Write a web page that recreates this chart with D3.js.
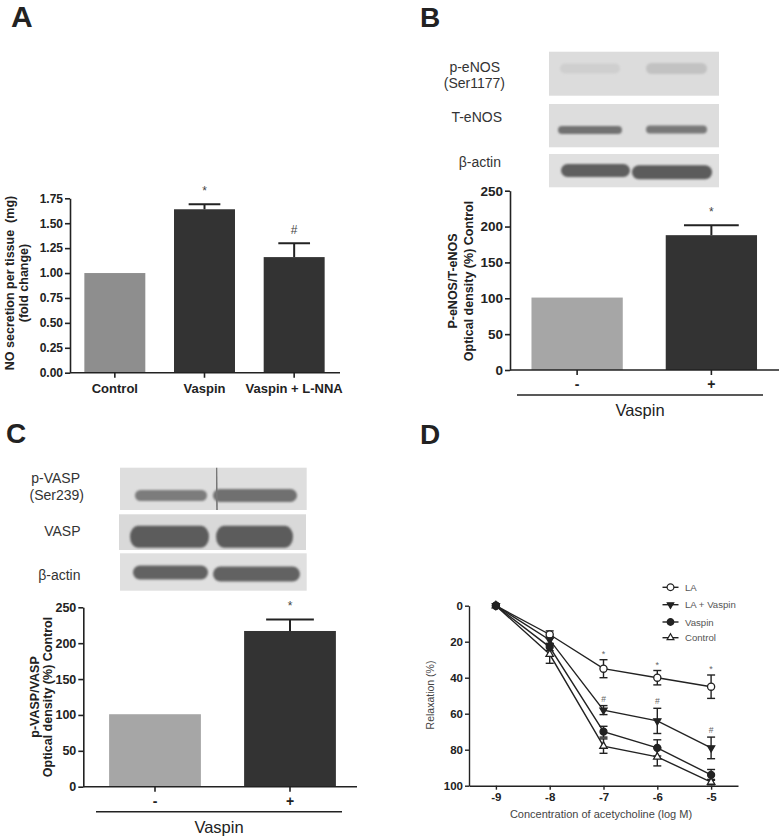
<!DOCTYPE html>
<html><head><meta charset="utf-8">
<script src="https://cdn.jsdelivr.net/npm/d3@7"></script>
<style>
body{margin:0;background:#fff;}
svg{display:block;font-family:"Liberation Sans",Arial,sans-serif;}
text{white-space:pre;}
</style></head><body>
<svg id="c" width="783" height="839"></svg>
<script>
// ---------- DATA ----------
const aCategories = ["Control", "Vaspin", "Vaspin + L-NNA"];
const aValues = [1.00, 1.64, 1.16];
const aErrors = [0, 0.05, 0.14];
const aMarks = ["", "*", "#"];
const aTicks = [0, 0.25, 0.5, 0.75, 1.0, 1.25, 1.5, 1.75];

const bCategories = ["-", "+"];
const bValues = [101, 188];
const bErrors = [0, 14];
const bMarks = ["", "*"];
const bTicks = [0, 50, 100, 150, 200, 250];

const cCategories = ["-", "+"];
const cValues = [101, 217];
const cErrors = [0, 16];
const cMarks = ["", "*"];
const cTicks = [0, 50, 100, 150, 200, 250];

const bBlotLabels = [["p-eNOS", "(Ser1177)"], ["T-eNOS"], ["β-actin"]];
const bBandDensity = [[0.07, 0.15], [0.66, 0.62], [0.78, 0.8]];
const cBlotLabels = [["p-VASP", "(Ser239)"], ["VASP"], ["β-actin"]];
const cBandDensity = [[0.6, 0.68], [0.8, 0.8], [0.76, 0.76]];

const dDoses = [-9, -8, -7, -6, -5];
const dYTicks = [0, 20, 40, 60, 80, 100];
const dNames = ["LA", "LA + Vaspin", "Vaspin", "Control"];
const dLA = [0, 16, 35, 40, 45];
const dLAErr = [0, 2, 5, 4, 6.5];
const dLAVaspin = [0, 19, 58, 64, 79];
const dLAVaspinErr = [0, 2, 2.5, 7, 6];
const dVaspin = [0, 23, 70, 79, 94];
const dVaspinErr = [0, 2, 3, 4.5, 3];
const dControl = [0, 27, 78, 84, 98];
const dControlErr = [0, 5, 4, 5, 1.5];
const dStarMarks = ["", "", "*", "*", "*"];
const dHashMarks = ["", "", "#", "#", "#"];

// ---------- DRAWING ----------
const FONT = '"Liberation Sans", Arial, sans-serif';
const INK = "#222";
const svg = d3.select("#c");
const defs = svg.append("defs");
defs.append("filter").attr("id", "blur").attr("x", "-20%").attr("y", "-50%").attr("width", "140%").attr("height", "200%")
  .append("feGaussianBlur").attr("stdDeviation", 1.3);
defs.append("filter").attr("id", "blur2").append("feGaussianBlur").attr("stdDeviation", 0.6);
defs.append("clipPath").attr("id", "clipA").append("rect").attr("x", 0).attr("y", 0).attr("width", 346.5).attr("height", 420);

function panelLetter(t, x, y, fs) {
  svg.append("text").attr("x", x).attr("y", y).attr("font-size", fs).attr("font-weight", "bold")
    .attr("fill", INK).text(t);
}
panelLetter("A", 11, 27, 30);
panelLetter("B", 420, 27, 28);
panelLetter("C", 6, 443, 28);
panelLetter("D", 420, 444, 28);

function barChart(cfg) {
  const g = svg.append("g");
  const x = d3.scaleBand().domain(cfg.cats).range(cfg.xr).paddingInner(0.32).paddingOuter(0.16);
  const y = d3.scaleLinear().domain([0, cfg.ymax]).range([cfg.y0, cfg.y1]);
  const bw = x.bandwidth();
  g.selectAll("rect.bar").data(cfg.cats).join("rect").attr("class", "bar")
    .attr("x", d => x(d)).attr("width", bw)
    .attr("y", (d, i) => y(cfg.vals[i])).attr("height", (d, i) => y(0) - y(cfg.vals[i]))
    .attr("fill", (d, i) => cfg.colors[i]);
  cfg.cats.forEach((d, i) => {
    const cx = x(d) + bw / 2;
    if (cfg.errs[i]) {
      const top = y(cfg.vals[i] + cfg.errs[i]);
      g.append("line").attr("x1", cx).attr("x2", cx).attr("y1", y(cfg.vals[i])).attr("y2", top)
        .attr("stroke", INK).attr("stroke-width", 2);
      g.append("line").attr("x1", cx - bw * cfg.cap).attr("x2", cx + bw * cfg.cap).attr("y1", top).attr("y2", top)
        .attr("stroke", INK).attr("stroke-width", 2);
    }
    if (cfg.marks[i]) {
      g.append("text").attr("x", cx).attr("y", y(cfg.vals[i] + cfg.errs[i]) - 9)
        .attr("text-anchor", "middle").attr("font-size", 12).attr("fill", "#444").text(cfg.marks[i]);
    }
  });
  // y axis
  const ya = g.append("g").attr("transform", `translate(${cfg.ax},0)`)
    .call(d3.axisLeft(y).tickValues(cfg.ticks).tickFormat(cfg.fmt).tickSize(5).tickSizeOuter(0).tickPadding(2));
  ya.attr("font-family", FONT).attr("font-size", cfg.tickFs).attr("font-weight", "bold").attr("color", INK);
  ya.selectAll("path,line").attr("stroke-width", 1.6);
  // x axis
  const xa = g.append("g").attr("transform", `translate(0,${cfg.y0})`)
    .call(d3.axisBottom(x).tickSize(5).tickSizeOuter(0).tickPadding(cfg.xpad));
  xa.select(".domain").remove();
  xa.attr("font-family", FONT).attr("font-size", cfg.catFs).attr("font-weight", "bold").attr("color", INK);
  xa.selectAll("line").attr("stroke-width", 1.6);
  g.append("line").attr("x1", cfg.ax).attr("x2", cfg.xEnd).attr("y1", cfg.y0).attr("y2", cfg.y0)
    .attr("stroke", INK).attr("stroke-width", 1.6);
  if (cfg.clip) xa.attr("clip-path", "url(#clipA)");
  // y label
  const yl = g.append("text").attr("transform", `translate(${cfg.lx},${cfg.ly}) rotate(-90)`)
    .attr("text-anchor", "middle").attr("font-size", cfg.labFs).attr("font-weight", "bold").attr("fill", INK);
  cfg.ylabel.forEach((t, k) => yl.append("tspan").attr("x", 0).attr("dy", k === 0 ? 0 : cfg.lineH).text(t));
  // group line
  if (cfg.group) {
    g.append("line").attr("x1", cfg.group.x1).attr("x2", cfg.group.x2).attr("y1", cfg.group.y).attr("y2", cfg.group.y)
      .attr("stroke", INK).attr("stroke-width", 1.5);
    g.append("text").attr("x", (cfg.group.x1 + cfg.group.x2) / 2).attr("y", cfg.group.y + 21)
      .attr("text-anchor", "middle").attr("font-size", 16.5).attr("fill", INK).text(cfg.group.text);
  }
}

barChart({cats: aCategories, vals: aValues, errs: aErrors, marks: aMarks, ticks: aTicks,
  fmt: d3.format(".2f"), xr: [70, 339], ymax: 1.75, y0: 372.7, y1: 198.3, ax: 70, xEnd: 340,
  colors: ["#8e8e8e", "#333333", "#333333"], cap: 0.26, tickFs: 12, catFs: 13, xpad: 6, clip: true,
  ylabel: ["NO secretion per tissue  (mg)", "(fold change)"], lx: 14, ly: 283, lineH: 13.5, labFs: 12.5});

barChart({cats: bCategories, vals: bValues, errs: bErrors, marks: bMarks, ticks: bTicks,
  fmt: d3.format("d"), xr: [510, 778.5], ymax: 250, y0: 370, y1: 190.7, ax: 510, xEnd: 779,
  colors: ["#a6a6a6", "#333333"], cap: 0.3, tickFs: 13.5, catFs: 14, xpad: 4,
  ylabel: ["P-eNOS/T-eNOS", "Optical density (%) Control"], lx: 457, ly: 281, lineH: 15.5, labFs: 12.5,
  group: {x1: 517, x2: 763, y: 395, text: "Vaspin"}});

barChart({cats: cCategories, vals: cValues, errs: cErrors, marks: cMarks, ticks: cTicks,
  fmt: d3.format("d"), xr: [87.5, 357.5], ymax: 250, y0: 786.7, y1: 607.3, ax: 83.3, xEnd: 357,
  colors: ["#a6a6a6", "#333333"], cap: 0.26, tickFs: 12.5, catFs: 14, xpad: 4,
  ylabel: ["p-VASP/VASP", "Optical density (%) Control"], lx: 39, ly: 697, lineH: 13, labFs: 12.5,
  group: {x1: 96, x2: 342, y: 811.7, text: "Vaspin"}});

// ---------- BLOTS ----------
const bandColor = d3.interpolateRgb("#dadada", "#3c3c3c");
function blot(labels, density, layout) {
  const g = svg.append("g");
  layout.rows.forEach((r, ri) => {
    g.append("rect").attr("x", r.x0).attr("y", r.y0).attr("width", r.x1 - r.x0).attr("height", r.y1 - r.y0)
      .attr("fill", r.bg);
    r.lanes.forEach((ln, li) => {
      const h = ln.h;
      g.append("rect").attr("x", ln.x0).attr("y", ln.cy - h / 2)
        .attr("width", ln.x1 - ln.x0).attr("height", h).attr("rx", Math.min(h / 2, 8)).attr("ry", h / 2)
        .attr("fill", bandColor(density[ri][li])).attr("filter", "url(#blur)");
    });
    const lab = layout.labels[ri];
    labels[ri].forEach((t, k) => {
      g.append("text").attr("x", lab.x + (k === 1 ? lab.dx2 : 0)).attr("y", lab.y + k * 16.5)
        .attr("text-anchor", "end").attr("font-size", 14).attr("fill", "#333").text(t);
    });
  });
  return g;
}

blot(bBlotLabels, bBandDensity, {
  rows: [
    {x0: 549, x1: 719, y0: 51.7, y1: 95.7, bg: "#dcdcdc",
      lanes: [{x0: 560, x1: 620, cy: 68.5, h: 10}, {x0: 646, x1: 707, cy: 68.5, h: 11}]},
    {x0: 549, x1: 719, y0: 104, y1: 147.3, bg: "#dddddd",
      lanes: [{x0: 558, x1: 622, cy: 130, h: 8}, {x0: 646, x1: 707, cy: 129.5, h: 8}]},
    {x0: 549, x1: 719, y0: 154, y1: 187.3, bg: "#e0e0e0",
      lanes: [{x0: 561, x1: 630, cy: 170.5, h: 13}, {x0: 632, x1: 712, cy: 172.3, h: 14}]}
  ],
  labels: [{x: 500, y: 71.5, dx2: 5}, {x: 502, y: 122}, {x: 501, y: 166.5}]
});

const gc = blot(cBlotLabels, cBandDensity, {
  rows: [
    {x0: 120, x1: 306.7, y0: 467.7, y1: 510, bg: "#dedede",
      lanes: [{x0: 135, x1: 207, cy: 495.5, h: 11}, {x0: 213, x1: 297, cy: 495.5, h: 13}]},
    {x0: 119, x1: 306, y0: 514.3, y1: 550, bg: "#d9d9d9",
      lanes: [{x0: 130, x1: 209, cy: 536.7, h: 22}, {x0: 216, x1: 293, cy: 536.7, h: 22}]},
    {x0: 120, x1: 306.7, y0: 553.3, y1: 590.7, bg: "#e0e0e0",
      lanes: [{x0: 133, x1: 208, cy: 572.5, h: 14}, {x0: 213, x1: 300, cy: 574, h: 15}]}
  ],
  labels: [{x: 80, y: 483, dx2: 4}, {x: 80.5, y: 535.5}, {x: 80.5, y: 580}]
});
gc.append("line").attr("x1", 216.5).attr("x2", 217).attr("y1", 467.7).attr("y2", 510)
  .attr("stroke", "#777").attr("stroke-width", 1.6).attr("filter", "url(#blur2)");

// ---------- PANEL D ----------
(function () {
  const g = svg.append("g");
  const x = d3.scaleLinear().domain([-9.5, -4.5]).range([469, 738]);
  const y = d3.scaleLinear().domain([0, 100]).range([605.7, 785.7]);
  const xa = g.append("g").attr("transform", `translate(0,${y(100)})`)
    .call(d3.axisBottom(x).tickValues(dDoses).tickFormat(d => String(d)).tickSize(4).tickSizeOuter(0).tickPadding(3));
  xa.attr("font-family", FONT).attr("font-size", 11.5).attr("font-weight", "bold").attr("color", INK);
  xa.selectAll("path,line").attr("stroke-width", 1.4);
  const ya = g.append("g").attr("transform", `translate(${x(-9.5)},0)`)
    .call(d3.axisLeft(y).tickValues(dYTicks).tickFormat(d => String(d)).tickSize(4).tickSizeOuter(0).tickPadding(2));
  ya.attr("font-family", FONT).attr("font-size", 11.5).attr("font-weight", "bold").attr("color", INK);
  ya.selectAll("path,line").attr("stroke-width", 1.4);
  g.append("text").attr("x", 601).attr("y", 818).attr("text-anchor", "middle").attr("font-size", 11)
    .attr("fill", "#444").text("Concentration of acetycholine (log M)");
  g.append("text").attr("transform", `translate(434,695) rotate(-90)`).attr("text-anchor", "middle")
    .attr("font-size", 10.5).attr("fill", "#444").text("Relaxation (%)");

  const series = [
    {name: dNames[0], v: dLA, e: dLAErr, type: d3.symbolCircle, fill: "#fff", rot: 0, size: 40},
    {name: dNames[3], v: dControl, e: dControlErr, type: d3.symbolTriangle, fill: "#fff", rot: 0, size: 24},
    {name: dNames[1], v: dLAVaspin, e: dLAVaspinErr, type: d3.symbolTriangle, fill: INK, rot: 180, size: 22},
    {name: dNames[2], v: dVaspin, e: dVaspinErr, type: d3.symbolCircle, fill: INK, rot: 0, size: 38}
  ];
  const line = d3.line().x((d, i) => x(dDoses[i])).y(d => y(d));
  series.forEach(s => {
    s.v.forEach((v, i) => {
      if (!s.e[i]) return;
      const cx = x(dDoses[i]);
      const y1 = y(v - s.e[i]), y2 = y(v + s.e[i]);
      g.append("line").attr("x1", cx).attr("x2", cx).attr("y1", y1).attr("y2", y2).attr("stroke", INK).attr("stroke-width", 1.4);
      [y1, y2].forEach(yy => g.append("line").attr("x1", cx - 4).attr("x2", cx + 4).attr("y1", yy).attr("y2", yy)
        .attr("stroke", INK).attr("stroke-width", 1.4));
    });
    g.append("path").datum(s.v).attr("d", line).attr("fill", "none").attr("stroke", INK).attr("stroke-width", 1.4);
  });
  series.forEach(s => {
    g.selectAll(null).data(s.v).join("path")
      .attr("d", d3.symbol().type(s.type).size(s.size))
      .attr("transform", (d, i) => `translate(${x(dDoses[i])},${y(d)}) rotate(${s.rot})`)
      .attr("fill", s.fill).attr("stroke", INK).attr("stroke-width", 1.3);
  });
  // significance marks
  dLA.forEach((v, i) => {
    if (!dStarMarks[i]) return;
    g.append("text").attr("x", x(dDoses[i])).attr("y", y(v - dLAErr[i]) - 3).attr("text-anchor", "middle")
      .attr("font-size", 9).attr("fill", "#666").text(dStarMarks[i]);
  });
  dLAVaspin.forEach((v, i) => {
    if (!dHashMarks[i]) return;
    g.append("text").attr("x", x(dDoses[i])).attr("y", y(v - dLAVaspinErr[i]) - 4).attr("text-anchor", "middle")
      .attr("font-size", 8.5).attr("fill", "#666").text(dHashMarks[i]);
  });
  // legend
  const legOrder = [series[0], series[2], series[3], series[1]];
  const legY = [587.3, 604.7, 622, 637.7];
  legOrder.forEach((s, k) => {
    const ly = legY[k];
    g.append("line").attr("x1", 662.5).attr("x2", 678.5).attr("y1", ly).attr("y2", ly).attr("stroke", INK).attr("stroke-width", 1.4);
    g.append("path").attr("d", d3.symbol().type(s.type).size(s.size - 4)())
      .attr("transform", `translate(670.5,${ly}) rotate(${s.rot})`)
      .attr("fill", s.fill).attr("stroke", INK).attr("stroke-width", 1.2);
    g.append("text").attr("x", 685).attr("y", ly + 3.5).attr("font-size", 9.6).attr("fill", "#555").text(s.name);
  });
})();
</script>
</body></html>
